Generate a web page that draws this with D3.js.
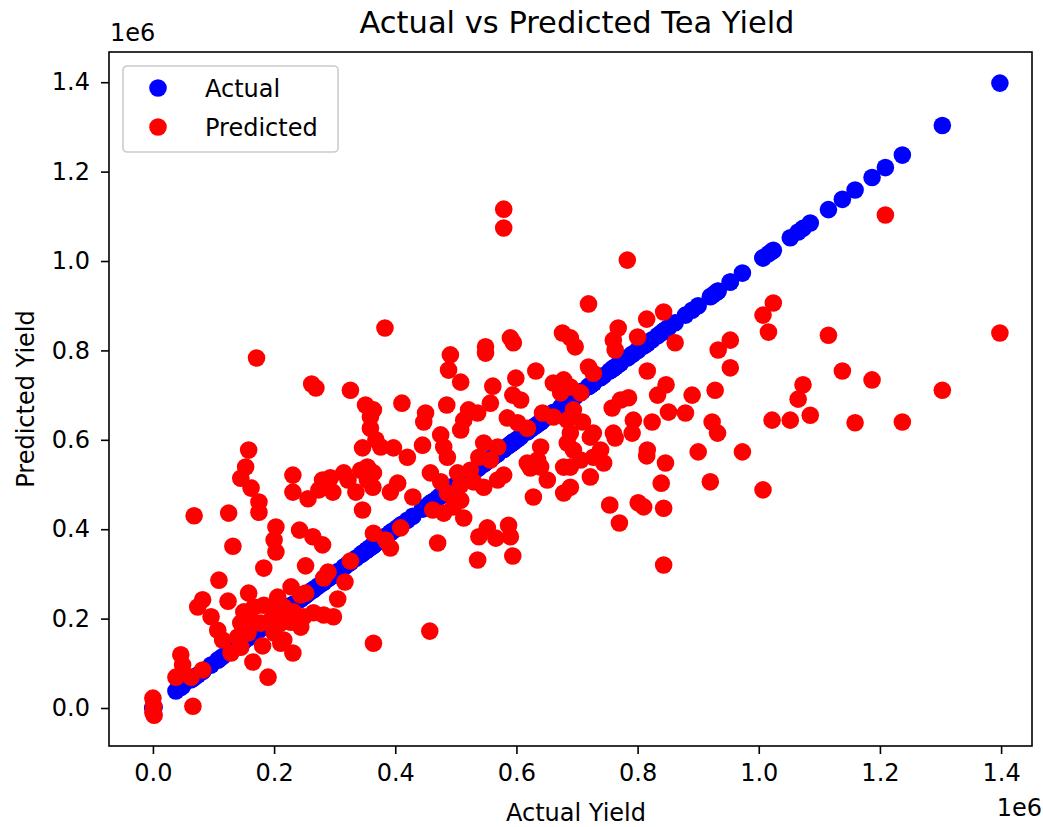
<!DOCTYPE html>
<html>
<head>
<meta charset="utf-8">
<script src="https://cdn.jsdelivr.net/npm/d3@7"></script>
<style>
  html, body { margin: 0; padding: 0; background: #ffffff; }
  svg { display: block; }
  text { font-family: "DejaVu Sans", sans-serif; fill: #000; }
</style>
</head>
<body>
<div id="chart"></div>
<script>
// Tea yield: actual vs predicted (values in millions, axis offset "1e6")
const actualYield = [
  0.000, 0.001, 0.000, 0.002, 0.066, 0.038, 0.063, 0.082, 0.046, 0.049,
  0.082, 0.074, 0.109, 0.158, 0.124, 0.183, 0.252, 0.289, 0.282, 0.326,
  0.317, 0.305, 0.228, 0.244, 0.252, 0.206, 0.150, 0.167, 0.183, 0.200,
  0.216, 0.232, 0.249, 0.265, 0.282, 0.298, 0.145, 0.162, 0.178, 0.195,
  0.211, 0.228, 0.244, 0.140, 0.157, 0.200, 0.216, 0.107, 0.145, 0.129,
  0.181, 0.211, 0.231, 0.165, 0.190, 0.364, 0.115, 0.096, 0.132, 0.068,
  0.125, 0.158, 0.153, 0.145, 0.162, 0.175, 0.175, 0.203, 0.200, 0.203,
  0.171, 0.262, 0.269, 0.326, 0.383, 0.231, 0.231, 0.256, 0.242, 0.264,
  0.280, 0.280, 0.297, 0.315, 0.322, 0.343, 0.354, 0.346, 0.364, 0.351,
  0.359, 0.359, 0.368, 0.346, 0.293, 0.335, 0.274, 0.376, 0.354, 0.364,
  0.363, 0.411, 0.485, 0.364, 0.450, 0.447, 0.491, 0.488, 0.508, 0.549,
  0.549, 0.397, 0.420, 0.445, 0.480, 0.486, 0.475, 0.508, 0.521, 0.536,
  0.513, 0.458, 0.475, 0.503, 0.524, 0.508, 0.529, 0.546, 0.404, 0.392,
  0.429, 0.486, 0.508, 0.496, 0.513, 0.462, 0.480, 0.470, 0.538, 0.552,
  0.566, 0.536, 0.409, 0.384, 0.392, 0.457, 0.579, 0.579, 0.719, 0.676,
  0.689, 0.697, 0.590, 0.595, 0.561, 0.632, 0.599, 0.594, 0.607, 0.661,
  0.678, 0.689, 0.673, 0.706, 0.719, 0.727, 0.557, 0.585, 0.602, 0.618,
  0.643, 0.661, 0.684, 0.709, 0.546, 0.569, 0.538, 0.557, 0.640, 0.635,
  0.623, 0.684, 0.694, 0.706, 0.727, 0.569, 0.579, 0.618, 0.640, 0.651,
  0.689, 0.722, 0.678, 0.628, 0.587, 0.590, 0.594, 0.744, 0.689, 0.739,
  0.722, 0.727, 0.760, 0.791, 0.758, 0.772, 0.785, 0.763, 0.783, 0.843,
  0.815, 0.768, 0.760, 0.763, 0.800, 0.862, 0.816, 0.847, 0.833, 0.890,
  0.928, 0.953, 0.933, 0.953, 0.851, 0.879, 0.793, 0.824, 0.923, 0.932,
  0.816, 0.815, 0.900, 0.973, 0.846, 0.839, 0.920, 0.754, 0.801, 0.810,
  0.843, 0.770, 0.843, 1.024, 1.007, 1.016, 1.022, 1.052, 1.007, 1.209,
  1.115, 1.398, 1.138, 1.187, 1.303, 1.073, 1.065, 1.085, 1.159, 1.237,
  0.694, 0.689, 0.678
];

const predictedYield = [
  0.022, 0.004, -0.010, -0.016, 0.004, 0.069, 0.069, 0.085, 0.119, 0.096,
  0.242, 0.226, 0.286, 0.257, 0.239, 0.313, 0.318, 0.304, 0.291, 0.329,
  0.282, 0.244, 0.271, 0.253, 0.257, 0.248, 0.215, 0.226, 0.230, 0.219,
  0.226, 0.215, 0.204, 0.213, 0.208, 0.204, 0.190, 0.197, 0.190, 0.197,
  0.190, 0.192, 0.181, 0.159, 0.168, 0.168, 0.152, 0.174, 0.136, 0.123,
  0.139, 0.145, 0.123, 0.103, 0.069, 0.145, 0.152, 0.204, 0.362, 0.430,
  0.436, 0.577, 0.539, 0.514, 0.492, 0.461, 0.438, 0.405, 0.376, 0.349,
  0.783, 0.725, 0.716, 0.711, 0.850, 0.521, 0.483, 0.468, 0.398, 0.383,
  0.365, 0.510, 0.483, 0.526, 0.510, 0.532, 0.510, 0.443, 0.391, 0.678,
  0.651, 0.626, 0.600, 0.582, 0.515, 0.483, 0.488, 0.584, 0.539, 0.526,
  0.494, 0.682, 0.678, 0.667, 0.660, 0.640, 0.790, 0.756, 0.729, 0.808,
  0.794, 0.582, 0.561, 0.588, 0.584, 0.561, 0.611, 0.622, 0.667, 0.660,
  0.644, 0.526, 0.506, 0.526, 0.532, 0.499, 0.506, 0.494, 0.503, 0.483,
  0.472, 0.481, 0.465, 0.450, 0.425, 0.443, 0.436, 0.369, 0.383, 0.403,
  0.380, 0.331, 0.403, 0.376, 0.358, 0.172, 1.116, 1.074, 0.904, 0.839,
  0.828, 0.808, 0.828, 0.817, 0.720, 0.754, 0.738, 0.700, 0.689, 0.727,
  0.734, 0.718, 0.705, 0.705, 0.763, 0.749, 0.682, 0.649, 0.638, 0.626,
  0.660, 0.651, 0.644, 0.640, 0.593, 0.584, 0.561, 0.555, 0.584, 0.555,
  0.537, 0.593, 0.577, 0.555, 0.561, 0.510, 0.521, 0.548, 0.539, 0.510,
  0.539, 0.517, 0.481, 0.472, 0.409, 0.383, 0.340, 0.548, 0.494, 0.577,
  0.606, 0.615, 0.615, 0.615, 0.671, 0.689, 0.694, 0.604, 1.002, 0.886,
  0.870, 0.850, 0.823, 0.801, 0.830, 0.817, 0.754, 0.723, 0.700, 0.700,
  0.711, 0.761, 0.801, 0.823, 0.662, 0.660, 0.644, 0.640, 0.640, 0.615,
  0.577, 0.564, 0.573, 0.573, 0.548, 0.503, 0.506, 0.454, 0.459, 0.450,
  0.447, 0.414, 0.320, 0.906, 0.879, 0.841, 0.644, 0.644, 0.488, 1.103,
  0.834, 0.839, 0.754, 0.734, 0.711, 0.723, 0.691, 0.655, 0.638, 0.640,
  0.667, 0.615, 0.539
];

const xTicks = [0.0, 0.2, 0.4, 0.6, 0.8, 1.0, 1.2, 1.4];
const yTicks = [0.0, 0.2, 0.4, 0.6, 0.8, 1.0, 1.2, 1.4];
const seriesNames = ["Actual", "Predicted"];
const seriesColors = ["#0000ff", "#ff0000"];

const W = 1043, H = 827;
const margin = { left: 109, right: 11, top: 52, bottom: 81 };
const iw = W - margin.left - margin.right;
const ih = H - margin.top - margin.bottom;
const tickFont = 24;
const titleFont = 30.5;
const markerR = 8.8;
const lineW = 1.6;

const svg = d3.select("#chart").append("svg")
  .attr("width", W).attr("height", H);

const x = d3.scaleLinear().domain([-0.0725, 1.451]).range([0, iw]);
const y = d3.scaleLinear().domain([-0.085, 1.4676]).range([ih, 0]);

const g = svg.append("g").attr("transform", `translate(${margin.left},${margin.top})`);

const points = actualYield.map((a, i) => ({ a, p: predictedYield[i] }));

// Actual (on the diagonal), then Predicted on top
g.append("g").selectAll("circle").data(points).join("circle")
  .attr("cx", d => x(d.a)).attr("cy", d => y(d.a))
  .attr("r", markerR).attr("fill", seriesColors[0]);

g.append("g").selectAll("circle").data(points).join("circle")
  .attr("cx", d => x(d.a)).attr("cy", d => y(d.p))
  .attr("r", markerR).attr("fill", seriesColors[1]);

// Axes
const fmt = d3.format(".1f");
const xAxis = g.append("g").attr("transform", `translate(0,${ih})`)
  .call(d3.axisBottom(x).tickValues(xTicks).tickFormat(fmt).tickSizeOuter(0).tickSize(8).tickPadding(10));
const yAxis = g.append("g")
  .call(d3.axisLeft(y).tickValues(yTicks).tickFormat(fmt).tickSizeOuter(0).tickSize(8).tickPadding(11));

[xAxis, yAxis].forEach(ax => {
  ax.select(".domain").remove();
  ax.selectAll(".tick line").attr("stroke", "#000").attr("stroke-width", lineW);
  ax.selectAll(".tick text").attr("font-size", tickFont)
    .attr("font-family", "DejaVu Sans, sans-serif").attr("fill", "#000");
});

// Frame
g.append("rect").attr("x", 0).attr("y", 0).attr("width", iw).attr("height", ih)
  .attr("fill", "none").attr("stroke", "#000").attr("stroke-width", lineW);

// Offset labels
svg.append("text").attr("x", margin.left + 1).attr("y", 41)
  .attr("font-size", tickFont).text("1e6");
svg.append("text").attr("x", 1042).attr("y", 816).attr("text-anchor", "end")
  .attr("font-size", tickFont).text("1e6");

// Title and axis labels
svg.append("text").attr("x", 577).attr("y", 33)
  .attr("text-anchor", "middle").attr("font-size", titleFont)
  .text("Actual vs Predicted Tea Yield");
svg.append("text").attr("x", 576).attr("y", 821)
  .attr("text-anchor", "middle").attr("font-size", tickFont)
  .text("Actual Yield");
svg.append("text")
  .attr("transform", `translate(34,${margin.top + ih / 2}) rotate(-90)`)
  .attr("text-anchor", "middle").attr("font-size", tickFont)
  .text("Predicted Yield");

// Legend
const lg = svg.append("g").attr("transform", "translate(123,66)");
lg.append("rect").attr("width", 215).attr("height", 86).attr("rx", 4)
  .attr("fill", "#fff").attr("fill-opacity", 0.8)
  .attr("stroke", "#cccccc").attr("stroke-width", lineW);
seriesNames.forEach((name, i) => {
  const cy = 22 + i * 39;
  lg.append("circle").attr("cx", 35).attr("cy", cy).attr("r", markerR)
    .attr("fill", seriesColors[i]);
  lg.append("text").attr("x", 82).attr("y", cy).attr("dy", "0.36em")
    .attr("font-size", tickFont).text(name);
});
</script>
</body>
</html>
